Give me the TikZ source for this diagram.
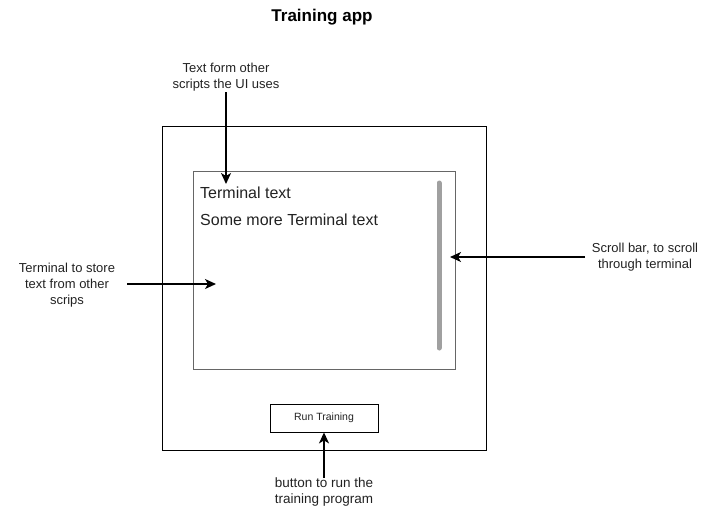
\documentclass[tikz,border=0pt]{standalone}
\usepackage{fontspec}
\setmainfont{Liberation Sans}
\usetikzlibrary{arrows.meta}
\definecolor{txt}{HTML}{222222}
\definecolor{termborder}{HTML}{666666}
\definecolor{scroll}{HTML}{A0A0A0}
\begin{document}
\begin{tikzpicture}[x=1pt,y=-1pt,
  note/.style={text=txt,align=center,font=\fontsize{13}{16}\selectfont,inner sep=0pt},
  arr/.style={line width=1.5pt,-{Stealth[length=11pt,width=10pt,inset=3pt]}}]
\useasboundingbox (0,0) rectangle (711,507);
% title
\node[font=\bfseries\fontsize{17}{20}\selectfont,inner sep=0pt] (title) at (322,17) {Training app};
% outer box
\node[draw=black,line width=0.8pt,minimum width=324pt,minimum height=324pt,inner sep=0pt,anchor=north west] (outer) at (162,126) {};
% terminal
\node[draw=termborder,line width=0.8pt,minimum width=262pt,minimum height=198pt,inner sep=0pt,anchor=north west] (term) at (193,171) {};
\node[anchor=west,text=txt,font=\fontsize{16}{18}\selectfont,inner sep=0pt] (t1) at (200,193) {Terminal text};
\node[anchor=west,text=txt,font=\fontsize{16}{18}\selectfont,inner sep=0pt] (t2) at (200,220) {Some more Terminal text};
% scroll bar
\coordinate (sbtop) at (439,183);
\coordinate (sbbot) at (439,348);
\draw[scroll,line width=5pt,line cap=round] (sbtop) -- (sbbot);
% button
\node[draw=black,line width=0.8pt,minimum width=108pt,minimum height=28pt,inner sep=0pt,font=\fontsize{10.5}{12}\selectfont,text=txt] (btn) at (324,418) {Run Training};
% annotations
\node[note] (ntop) at (226,77) {Text form other\\scripts the UI uses};
\node[note] (nleft) at (67,285) {Terminal to store\\text from other\\scrips};
\node[note] (nright) at (645,257) {Scroll bar, to scroll\\through terminal};
\node[note,font=\fontsize{13.5}{16}\selectfont] (nbot) at (324,492) {button to run the\\training program};
% arrow ends
\coordinate (atop0) at (226,92);
\coordinate (atop1) at (226,184);
\coordinate (aleft0) at (127,284);
\coordinate (aleft1) at (216,284);
\coordinate (aright0) at (585,257);
\coordinate (aright1) at (450,257);
\coordinate (abot0) at (324,478);
\draw[arr] (atop0) -- (atop1);
\draw[arr] (aleft0) -- (aleft1);
\draw[arr] (aright0) -- (aright1);
\draw[arr] (abot0) -- (btn.south);
\end{tikzpicture}
\end{document}
